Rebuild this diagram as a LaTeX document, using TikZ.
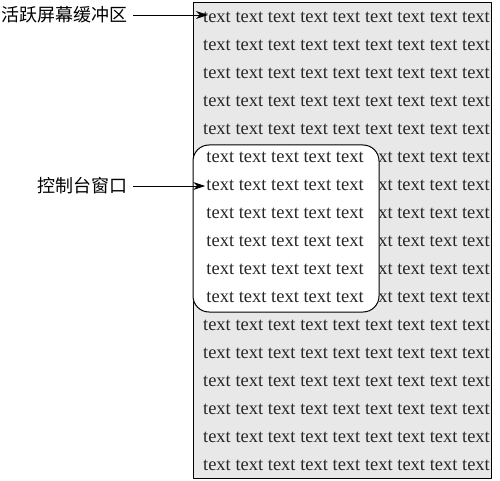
\documentclass[tikz,border=0pt]{standalone}
\usepackage{fontspec}
\setmainfont{Liberation Serif}
\newfontfamily\cjk{Noto Sans CJK SC}
\usetikzlibrary{arrows.meta}
\begin{document}
\begin{tikzpicture}[x=1pt,y=-1pt,line join=round,>={Stealth[length=12pt,width=8pt]}]
	\tikzset{row style/.style={anchor=east,inner sep=0pt,text=black!85,font=\fontsize{18.5}{22}\selectfont},
		label style/.style={anchor=east,inner sep=0pt,font=\cjk\fontsize{18}{22}\selectfont}}
	\useasboundingbox (0,0) rectangle (500,481);
	% screen buffer
	\draw[fill=black!9,line width=1pt] (193,3) rectangle (491,478);
	\foreach \i in {1,...,5,12,13,...,17}
		\node[row style] (row\i) at (490,{17+28*(\i-1)}) {text text text text text text text text text};
	\foreach \i in {6,...,11}
		\node[row style] (row\i) at (490,{17+28*(\i-1)}) {xt text text text};
	% console window
	\draw[fill=white,line width=1pt,rounded corners=16pt] (193,145) rectangle (379,312);
	\foreach \i in {1,...,6}
		\node[row style,anchor=center] (win\i) at (285,{157+28*(\i-1)}) {text text text text text};
	\node[label style] (buf) at (128,15) {活跃屏幕缓冲区};
	\node[label style] (con) at (128,186) {控制台窗口};
	\draw[->,line width=.9pt,shorten <=5pt,shorten >=-5pt] (buf.east) -- (buf.east-|row1.west);
	\draw[->,line width=.9pt,shorten <=5pt,shorten >=1pt] (con.east) -- (con.east-|win2.west);
\end{tikzpicture}
\end{document}
